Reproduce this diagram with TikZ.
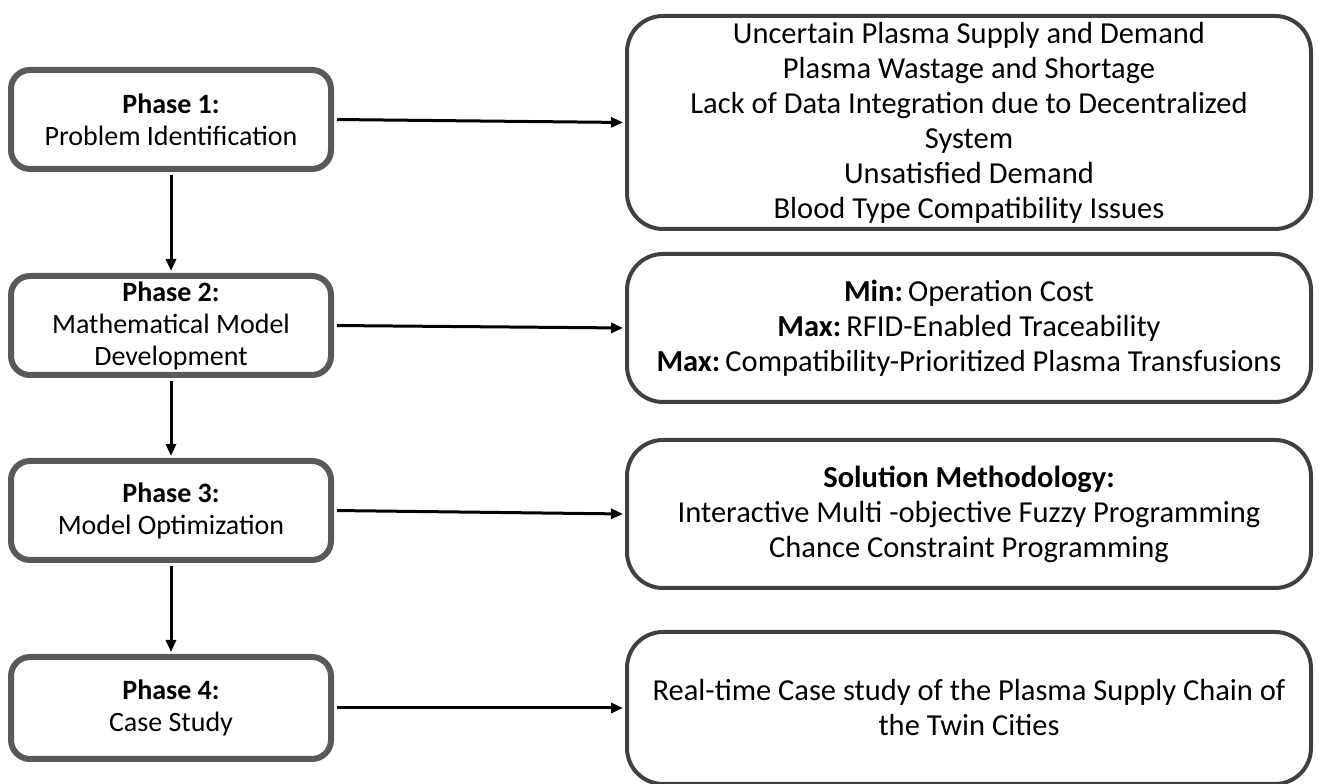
\documentclass[tikz,border=0pt]{standalone}
\usepackage{fontspec}
\setmainfont{Carlito}
\usetikzlibrary{arrows.meta}
\definecolor{leftgray}{HTML}{595959}
\definecolor{rightgray}{HTML}{404040}
\begin{document}
\begin{tikzpicture}[x=1pt,y=1pt,
 phasebox/.style={draw=leftgray, line width=6pt, rounded corners=19pt, fill=white,
   minimum width=320pt, minimum height=99pt, inner sep=0pt, align=center,
   font=\fontsize{28}{32}\selectfont},
 infobox/.style={draw=rightgray, line width=4pt, rounded corners=36pt, fill=white,
   minimum width=684pt, inner sep=0pt, align=center,
   font=\fontsize{30.5}{35}\selectfont},
 flow/.style={-{Triangle[length=12pt,width=10pt]}, line width=3pt, black,
   shorten <=3pt, shorten >=2pt}]
\fill[white] (0,0) rectangle (1322,784);
\useasboundingbox (0,0) rectangle (1322,784);
\begin{scope}
\clip (0,0) rectangle (1322,784);
\node[phasebox] (b1) at (171,664.5) {\textbf{Phase 1:}\\Problem Identification};
\node[phasebox] (b2) at (171,458.5) {\textbf{Phase 2:}\\Mathematical Model\\Development};
\node[phasebox] (b3) at (171,273.5) {\textbf{Phase 3:}\\Model Optimization};
\node[phasebox, minimum height=102pt] (b4) at (171,76) {\textbf{Phase 4:}\\Case Study};

\node[infobox, minimum height=213pt] (r1) at (969,661.5) {Uncertain Plasma Supply and Demand\\Plasma Wastage and Shortage\\Lack of Data Integration due to Decentralized\\System\\Unsatisfied Demand\\Blood Type Compatibility Issues};
\node[infobox, minimum height=148pt] (r2) at (969,456) {\textbf{Min:}\,Operation Cost\\\textbf{Max:}\,RFID-Enabled Traceability\\\textbf{Max:}\,Compatibility-Prioritized Plasma Transfusions};
\node[infobox, minimum height=148pt] (r3) at (969,270) {\textbf{Solution Methodology:}\\Interactive Multi -objective Fuzzy Programming\\Chance Constraint Programming};
\node[infobox, minimum height=152pt] (r4) at (969,76) {Real-time Case study of the Plasma Supply Chain of\\the Twin Cities};

\draw[flow] (b1.east) -- (r1.west);
\draw[flow] (b2.east) -- (r2.west);
\draw[flow] (b3.east) -- (r3.west);
\draw[flow] (b4.east) -- (r4.west);
\draw[flow] (b1.south) -- (b2.north);
\draw[flow] (b2.south) -- (b3.north);
\draw[flow] (b3.south) -- (b4.north);
\end{scope}
\end{tikzpicture}
\end{document}
